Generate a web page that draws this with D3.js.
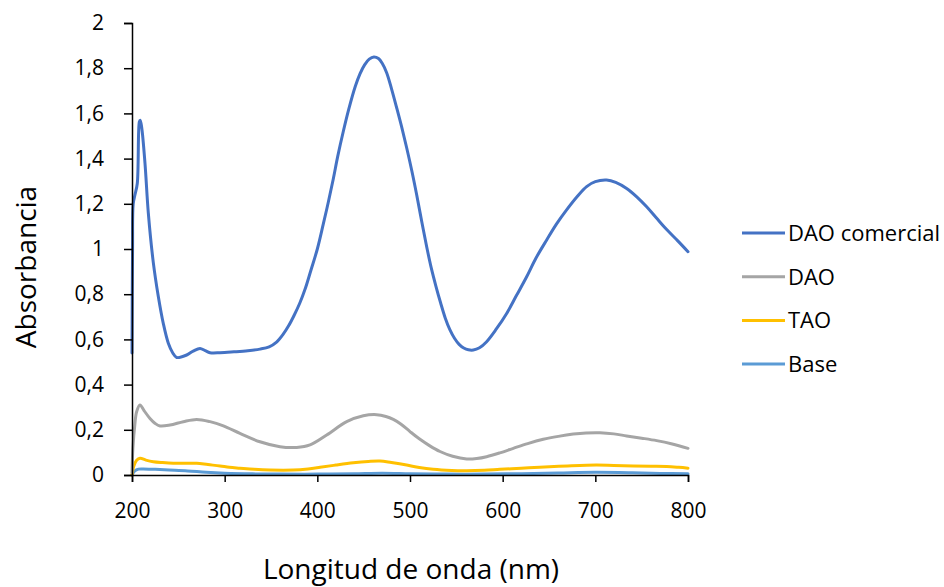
<!DOCTYPE html>
<html><head><meta charset="utf-8">
<script src="https://cdn.jsdelivr.net/npm/d3@7"></script>
<style>body{margin:0;background:#fff}svg{display:block}text{font-family:"Open Sans",sans-serif;fill:#000}</style>
</head><body><svg id="c" width="944" height="587"></svg>
<script>
// ---- data ----
const seriesNames = ["DAO comercial", "DAO", "TAO", "Base"];
const seriesColors = ["#4472C4", "#A5A5A5", "#FFC000", "#5B9BD5"];
const xTicks = [200, 300, 400, 500, 600, 700, 800];
const yTicks = [0, 0.2, 0.4, 0.6, 0.8, 1, 1.2, 1.4, 1.6, 1.8, 2];

const daoComercial = [
 [200,0.54],[200.6,1.0],[201.3,1.2],[203.2,1.24],[205.7,1.29],[207.9,1.563],[208.8,1.57],[210.4,1.54],
 [214,1.38],[217.6,1.16],[223,0.94],[228.4,0.79],[233.8,0.67],[239.2,0.583],[244,0.54],[248.2,0.52],
 [259,0.531],[266,0.548],[273.4,0.56],[279,0.55],[284.2,0.541],[295,0.541],[310,0.545],[325,0.55],
 [338,0.557],[348,0.567],[356,0.588],[363,0.622],[369,0.66],[375,0.707],[381,0.76],[387,0.825],
 [393,0.905],[400,1.0],[406.4,1.11],[412,1.21],[417.2,1.31],[422,1.41],[428,1.52],[434,1.62],
 [441,1.72],[446,1.775],[451,1.815],[456,1.84],[461,1.85],[466,1.843],[470,1.822],[474.8,1.78],
 [480,1.71],[485.6,1.625],[491,1.54],[496.4,1.448],[502,1.345],[507.2,1.24],[512.5,1.125],[518,1.01],
 [523,0.915],[528,0.835],[533,0.762],[538,0.695],[543,0.643],[548,0.605],[553,0.578],[558,0.562],
 [563,0.554],[568.3,0.553],[575,0.563],[582.7,0.59],[593,0.645],[604.3,0.715],[615,0.795],[625.9,0.877],
 [636,0.96],[647.5,1.04],[658,1.11],[669,1.173],[680,1.23],[690.6,1.276],[700,1.298],[712.2,1.305],
 [722,1.295],[733.8,1.268],[745,1.23],[755.4,1.187],[766,1.137],[777,1.086],[789,1.036],[800,0.988]
];
const dao = [
 [200,0.01],[201,0.12],[203,0.22],[205,0.28],[208.6,0.31],[213,0.285],[219.4,0.25],[225,0.228],[230.2,0.217],
 [241,0.221],[255.4,0.236],[269.8,0.246],[284.2,0.236],[298.6,0.217],[316.5,0.184],[338.1,0.147],
 [359.7,0.125],[377.7,0.122],[392.1,0.133],[410.1,0.177],[431.7,0.236],[449.6,0.262],[464,0.267],
 [474,0.259],[482,0.246],[490,0.226],[500,0.192],[510,0.16],[521,0.13],[532.4,0.104],[546,0.083],
 [561.2,0.071],[572,0.073],[582.7,0.081],[597,0.098],[611.5,0.118],[627,0.139],[643.8,0.158],
 [660,0.171],[676.2,0.181],[690,0.186],[705,0.187],[720,0.182],[733.8,0.173],[750,0.163],[766.2,0.152],
 [783,0.137],[800,0.118]
];
const tao = [
 [200,0.0],[202,0.04],[205,0.065],[208.6,0.074],[215,0.066],[223,0.059],[233,0.055],[244.6,0.052],
 [257,0.052],[269.8,0.052],[282,0.046],[295,0.04],[305,0.034],[316.5,0.03],[332,0.025],[349,0.022],
 [374,0.022],[390,0.027],[403,0.034],[420,0.044],[438.8,0.054],[455,0.06],[467.6,0.062],[480,0.055],
 [496.4,0.044],[510,0.033],[525,0.025],[545,0.02],[561,0.019],[580,0.021],[597,0.025],[620,0.03],
 [640,0.034],[670,0.04],[701,0.044],[720,0.042],[741,0.04],[760,0.039],[777,0.038],[790,0.034],[800,0.03]
];
const base = [
 [200,0.0],[203,0.018],[207,0.026],[212,0.027],[225,0.025],[240,0.022],[260,0.018],[280,0.012],
 [300,0.008],[330,0.005],[360,0.004],[400,0.004],[440,0.006],[470,0.008],[500,0.006],[540,0.004],
 [580,0.004],[620,0.006],[660,0.009],[700,0.012],[740,0.01],[770,0.007],[800,0.005]
];
const allSeries = [daoComercial, dao, tao, base];

// ---- chart ----
const svg = d3.select("#c");
const x = d3.scaleLinear().domain([200, 800]).range([132, 688]);
const y = d3.scaleLinear().domain([0, 2]).range([475, 23]);
const fmt = d => String(+d.toFixed(1)).replace(".", ",");

const line = d3.line().x(d => x(d[0])).y(d => y(d[1])).curve(d3.curveCatmullRom.alpha(0.5));
[3, 2, 1, 0].forEach(i => {
  svg.append("path").datum(allSeries[i]).attr("d", line)
    .attr("fill", "none").attr("stroke", seriesColors[i]).attr("stroke-width", 3)
    .attr("stroke-linejoin", "round").attr("stroke-linecap", "round");
});

const yAxis = svg.append("g").attr("transform", "translate(132,0)")
  .call(d3.axisLeft(y).tickValues(yTicks).tickFormat(fmt).tickSize(8).tickPadding(20));
const xAxis = svg.append("g").attr("transform", "translate(0,475)")
  .call(d3.axisBottom(x).tickValues(xTicks).tickSize(7).tickPadding(21));
[yAxis, xAxis].forEach(g => {
  g.select(".domain").attr("stroke", "#000").attr("stroke-width", 1.5);
  g.selectAll(".tick line").attr("stroke", "#000").attr("stroke-width", 1.5);
  g.selectAll(".tick text").attr("font-size", 21).attr("font-family", "Open Sans").attr("fill", "#000");
});

svg.append("text").attr("x", 411).attr("y", 579).attr("text-anchor", "middle")
  .attr("font-size", 28).text("Longitud de onda (nm)");
svg.append("text").attr("transform", "translate(36,267) rotate(-90)").attr("text-anchor", "middle")
  .attr("font-size", 28).text("Absorbancia");

const lg = svg.append("g");
seriesNames.forEach((n, i) => {
  const yy = 233 + i * 43.7;
  lg.append("line").attr("x1", 742).attr("x2", 785).attr("y1", yy).attr("y2", yy)
    .attr("stroke", seriesColors[i]).attr("stroke-width", 3);
  lg.append("text").attr("x", 788).attr("y", yy).attr("dy", "0.36em").attr("font-size", 22).text(n);
});
</script></body></html>
